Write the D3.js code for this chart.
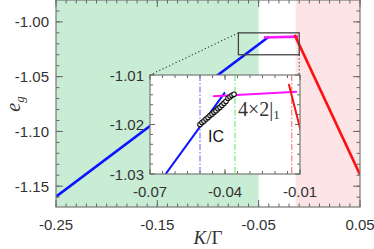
<!DOCTYPE html>
<html>
<head>
<meta charset="utf-8">
<script src="https://cdn.jsdelivr.net/npm/d3@7"></script>
<style>
  html, body { margin: 0; padding: 0; background: #fff; }
  svg { display: block; }
  .tick-label { font-family: "Liberation Sans", Arial, sans-serif; font-size: 15px; fill: #333; }
</style>
</head>
<body>
<svg id="chart" width="374" height="249"></svg>
<script>
// phase regions (K/Γ)
const greenRegion = [-0.25, -0.05];
const pinkRegion = [-0.0135, 0.05];

// energy branches [K/Γ, e_g]
const blueLine = [[-0.25, -1.1595], [-0.040, -1.0135]];
const magentaLine = [[-0.0448, -1.0143], [-0.0112, -1.0134]];
const redLine = [[-0.0145, -1.0118], [0.05, -1.1395]];

// IC data points (inset)
const icK = [-0.0500, -0.0492, -0.0484, -0.0476, -0.0468, -0.0460, -0.0452, -0.0444, -0.0436,
  -0.0428, -0.0420, -0.0412, -0.0404, -0.0396, -0.0388, -0.0380, -0.0372, -0.0364];
const icE = [-1.0200, -1.0196, -1.0193, -1.0189, -1.0186, -1.0182, -1.0179, -1.0175, -1.0172,
  -1.0168, -1.0165, -1.0161, -1.0157, -1.0153, -1.0147, -1.0144, -1.0141, -1.0139];

// transition markers in inset
const markers = [
  {k: -0.050, color: '#6f6fff'},
  {k: -0.036, color: '#6ee66e'},
  {k: -0.0133, color: '#ff7070'},
];

// ticks
const mainXLabels = [-0.25, -0.15, -0.05, 0.05];
const mainYLabels = [-1.15, -1.10, -1.05, -1.00];
const insetXLabels = [-0.07, -0.04, -0.01];
const insetYLabels = [-1.03, -1.02, -1.01];
const zoomBox = {x: [-0.07, -0.01], y: [-1.03, -1.01]};

const svg = d3.select('#chart');
const mLeft = 56, mRight = 360, mTop = 0, mBottom = 207;

const x = d3.scaleLinear().domain([-0.25, 0.05]).range([mLeft, mRight]);
const y = d3.scaleLinear().domain([-1.169, -0.98]).range([mBottom, mTop]);

svg.append('clipPath').attr('id', 'mainclip')
    .append('rect').attr('x', mLeft).attr('y', mTop).attr('width', mRight - mLeft).attr('height', mBottom - mTop);

const main = svg.append('g').attr('clip-path', 'url(#mainclip)');
main.append('rect')
    .attr('x', x(greenRegion[0])).attr('y', mTop)
    .attr('width', x(greenRegion[1]) - x(greenRegion[0])).attr('height', mBottom - mTop)
    .attr('fill', '#c9ecd5');
main.append('rect')
    .attr('x', x(pinkRegion[0])).attr('y', mTop)
    .attr('width', x(pinkRegion[1]) - x(pinkRegion[0])).attr('height', mBottom - mTop)
    .attr('fill', '#fde5e7');

const line = d3.line().x((d) => x(d[0])).y((d) => y(d[1]));
[[blueLine, '#0a14ff'], [magentaLine, '#ff14ff'], [redLine, '#ff1010']].forEach(([d, c]) => {
  main.append('path').attr('d', line(d)).attr('fill', 'none')
      .attr('stroke', c).attr('stroke-width', 2.6);
});

// zoom rectangle
main.append('rect')
    .attr('x', x(zoomBox.x[0])).attr('y', y(zoomBox.y[1]))
    .attr('width', x(zoomBox.x[1]) - x(zoomBox.x[0]))
    .attr('height', y(zoomBox.y[0]) - y(zoomBox.y[1]))
    .attr('fill', 'none').attr('stroke', '#444').attr('stroke-width', 1.3);

function frameAxes(g, xs, ys, xMinor, yMinor, xMajor, yMajor, majLen, minLen) {
  const [x0, x1] = xs.range();
  const [y0, y1] = ys.range();
  const tick = (v, len, isX) => {
    if (isX) {
      g.append('line').attr('x1', xs(v)).attr('x2', xs(v)).attr('y1', y0).attr('y2', y0 - len);
      g.append('line').attr('x1', xs(v)).attr('x2', xs(v)).attr('y1', y1).attr('y2', y1 + len);
    } else {
      g.append('line').attr('y1', ys(v)).attr('y2', ys(v)).attr('x1', x0).attr('x2', x0 + len);
      g.append('line').attr('y1', ys(v)).attr('y2', ys(v)).attr('x1', x1).attr('x2', x1 - len);
    }
  };
  xMinor.forEach((v) => tick(v, minLen, true));
  yMinor.forEach((v) => tick(v, minLen, false));
  xMajor.forEach((v) => tick(v, majLen, true));
  yMajor.forEach((v) => tick(v, majLen, false));
  g.selectAll('line').attr('stroke', '#666').attr('stroke-width', 1);
  g.append('rect').attr('x', x0).attr('y', y1).attr('width', x1 - x0).attr('height', y0 - y1)
      .attr('fill', 'none').attr('stroke', '#777').attr('stroke-width', 1.2);
}

const mainFrame = svg.append('g');
frameAxes(mainFrame, x, y,
    d3.range(-25, 6).map((d) => d / 100),
    d3.range(-116, -98).map((d) => d / 100),
    mainXLabels, mainYLabels, 7, 3.5);

svg.selectAll('.mx').data(mainXLabels).join('text')
    .attr('class', 'tick-label').attr('x', (d) => x(d)).attr('y', 230)
    .attr('text-anchor', 'middle').text((d) => d.toFixed(2));
svg.selectAll('.my').data(mainYLabels).join('text')
    .attr('class', 'tick-label').attr('x', mLeft - 7).attr('y', (d) => y(d) + 5.5)
    .attr('text-anchor', 'end').text((d) => d.toFixed(2));

// axis titles
const yt = svg.append('text').attr('transform', 'translate(20,104) rotate(-90)')
    .attr('text-anchor', 'middle')
    .attr('font-family', '"Liberation Serif", "DejaVu Serif", serif').attr('font-style', 'italic')
    .attr('font-size', 20).attr('fill', '#333');
yt.append('tspan').text('e');
yt.append('tspan').attr('font-size', 13).attr('dy', 4).text('g');

const xt = svg.append('text').attr('x', 208).attr('y', 244).attr('text-anchor', 'middle')
    .attr('font-family', '"Liberation Serif", "DejaVu Serif", serif')
    .attr('font-size', 19).attr('fill', '#333');
xt.append('tspan').attr('font-style', 'italic').text('K');
xt.append('tspan').text('/Γ');

// inset
const il = 150, ir = 300, it = 75, ib = 174;
const xi = d3.scaleLinear().domain(zoomBox.x).range([il, ir]);
const yi = d3.scaleLinear().domain(zoomBox.y).range([ib, it]);

// connectors
const conn = svg.append('g').attr('stroke', '#333').attr('stroke-width', 1.1)
    .attr('stroke-dasharray', '1.2,2.4');
conn.append('line').attr('x1', x(zoomBox.x[0])).attr('y1', y(zoomBox.y[1])).attr('x2', il).attr('y2', it);
conn.append('line').attr('x1', x(zoomBox.x[1])).attr('y1', y(zoomBox.y[0])).attr('x2', x(zoomBox.x[1])).attr('y2', it);

svg.append('rect').attr('x', il).attr('y', it).attr('width', ir - il).attr('height', ib - it).attr('fill', '#fff');
svg.append('clipPath').attr('id', 'insetclip')
    .append('rect').attr('x', il).attr('y', it).attr('width', ir - il).attr('height', ib - it);
const inset = svg.append('g').attr('clip-path', 'url(#insetclip)');

markers.forEach((m) => {
  inset.append('line').attr('x1', xi(m.k)).attr('x2', xi(m.k)).attr('y1', it).attr('y2', ib)
      .attr('stroke', m.color).attr('stroke-width', 1.1).attr('stroke-dasharray', '6,2,1.5,2');
});

const lineI = d3.line().x((d) => xi(d[0])).y((d) => yi(d[1]));
[[blueLine, '#0a14ff'], [magentaLine, '#ff14ff'], [redLine, '#ff1010']].forEach(([d, c]) => {
  inset.append('path').attr('d', lineI(d)).attr('fill', 'none')
      .attr('stroke', c).attr('stroke-width', 2);
});

inset.selectAll('circle').data(icK.map((k, i) => [k, icE[i]])).join('circle')
    .attr('cx', (d) => xi(d[0])).attr('cy', (d) => yi(d[1])).attr('r', 2.3)
    .attr('fill', '#fff').attr('stroke', '#111').attr('stroke-width', 1.1);

const insetFrame = svg.append('g');
frameAxes(insetFrame, xi, yi,
    d3.range(-70, -9, 5).map((d) => d / 1000),
    d3.range(-1030, -1009, 2).map((d) => d / 1000),
    insetXLabels, insetYLabels, 5, 3);

svg.selectAll('.ix').data(insetXLabels).join('text')
    .attr('class', 'tick-label').attr('x', (d) => xi(d)).attr('y', 197)
    .attr('text-anchor', 'middle').text((d) => d.toFixed(2));
svg.selectAll('.iy').data(insetYLabels).join('text')
    .attr('class', 'tick-label').attr('x', il - 6).attr('y', (d) => yi(d) + 5.5)
    .attr('text-anchor', 'end').text((d) => d.toFixed(2));

svg.append('text').attr('x', 208).attr('y', 142)
    .attr('font-family', '"Liberation Sans", Arial, sans-serif').attr('font-size', 16)
    .attr('fill', '#111').text('IC');

const lab = svg.append('text').attr('x', 238).attr('y', 116)
    .attr('font-family', '"Liberation Serif", "DejaVu Serif", serif').attr('font-size', 20)
    .attr('fill', '#333');
lab.append('tspan').text('4×2|');
lab.append('tspan').attr('font-size', 13).attr('dy', 3).text('1');
</script>
</body>
</html>
